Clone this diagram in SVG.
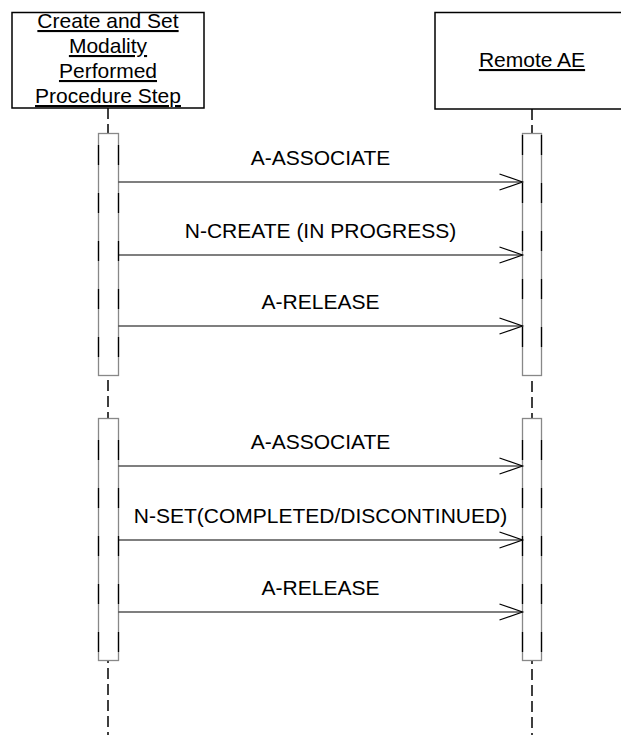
<svg xmlns="http://www.w3.org/2000/svg" width="621" height="735" viewBox="0 0 621 735">
<style>
text{font-family:"Liberation Sans",Arial,sans-serif;font-size:21px;fill:#000}
.t{text-anchor:middle}
.u{text-decoration:underline}
.box{fill:#fff;stroke:#000;stroke-width:1.5}
.life{stroke:#000;stroke-width:1.5;stroke-dasharray:11 5;fill:none}
.bar{fill:#fff;stroke:#888;stroke-width:1.3}
.edge{stroke:#000;stroke-width:1.3;stroke-dasharray:20 28;fill:none}
.msg{stroke:#000;stroke-width:1.2;fill:none}
</style>
<defs>
<marker id="open" markerWidth="26" markerHeight="20" refX="24" refY="9" orient="auto" markerUnits="userSpaceOnUse">
<path d="M1,1 L24,9 L1,17" fill="none" stroke="#000" stroke-width="1.2"/>
</marker>
</defs>
<g id="lifelines">
<line class="life" x1="108" y1="108" x2="108" y2="735"/>
<line class="life" x1="532" y1="109" x2="532" y2="735"/>
</g>
<g id="node-mpps">
<rect class="box" x="12" y="12.5" width="192" height="95.5"/>
<text class="t u" x="108" y="28">Create and Set</text>
<text class="t u" x="108" y="53">Modality</text>
<text class="t u" x="108" y="78">Performed</text>
<text class="t u" x="108" y="103">Procedure Step</text>
</g>
<g id="node-remote">
<rect class="box" x="435" y="12.5" width="194" height="96.5"/>
<text class="t u" x="532" y="67">Remote AE</text>
</g>
<g id="activations">
<rect class="bar" x="98.5" y="133.5" width="20" height="242"/>
<line class="edge" x1="98.5" y1="145" x2="98.5" y2="375"/>
<line class="edge" x1="118.5" y1="145" x2="118.5" y2="375"/>
<rect class="bar" x="522.5" y="133.5" width="19" height="242"/>
<line class="edge" x1="522.5" y1="135" x2="522.5" y2="375"/>
<line class="edge" x1="541.5" y1="135" x2="541.5" y2="375"/>
<rect class="bar" x="98.5" y="418.5" width="20" height="242"/>
<line class="edge" x1="98.5" y1="440" x2="98.5" y2="660"/>
<line class="edge" x1="118.5" y1="440" x2="118.5" y2="660"/>
<rect class="bar" x="522.5" y="418.5" width="19" height="242"/>
<line class="edge" x1="522.5" y1="440" x2="522.5" y2="660"/>
<line class="edge" x1="541.5" y1="440" x2="541.5" y2="660"/>
</g>
<g id="connectors">
<line class="msg" x1="118.5" y1="182" x2="522.5" y2="182" marker-end="url(#open)"/>
<text class="t" x="320.5" y="165">A-ASSOCIATE</text>
<line class="msg" x1="118.5" y1="255" x2="522.5" y2="255" marker-end="url(#open)"/>
<text class="t" x="320.5" y="238">N-CREATE (IN PROGRESS)</text>
<line class="msg" x1="118.5" y1="326" x2="522.5" y2="326" marker-end="url(#open)"/>
<text class="t" x="320.5" y="309">A-RELEASE</text>
<line class="msg" x1="118.5" y1="466" x2="522.5" y2="466" marker-end="url(#open)"/>
<text class="t" x="320.5" y="449">A-ASSOCIATE</text>
<line class="msg" x1="118.5" y1="540" x2="522.5" y2="540" marker-end="url(#open)"/>
<text class="t" x="320.5" y="523">N-SET(COMPLETED/DISCONTINUED)</text>
<line class="msg" x1="118.5" y1="612" x2="522.5" y2="612" marker-end="url(#open)"/>
<text class="t" x="320.5" y="595">A-RELEASE</text>
</g>
</svg>
